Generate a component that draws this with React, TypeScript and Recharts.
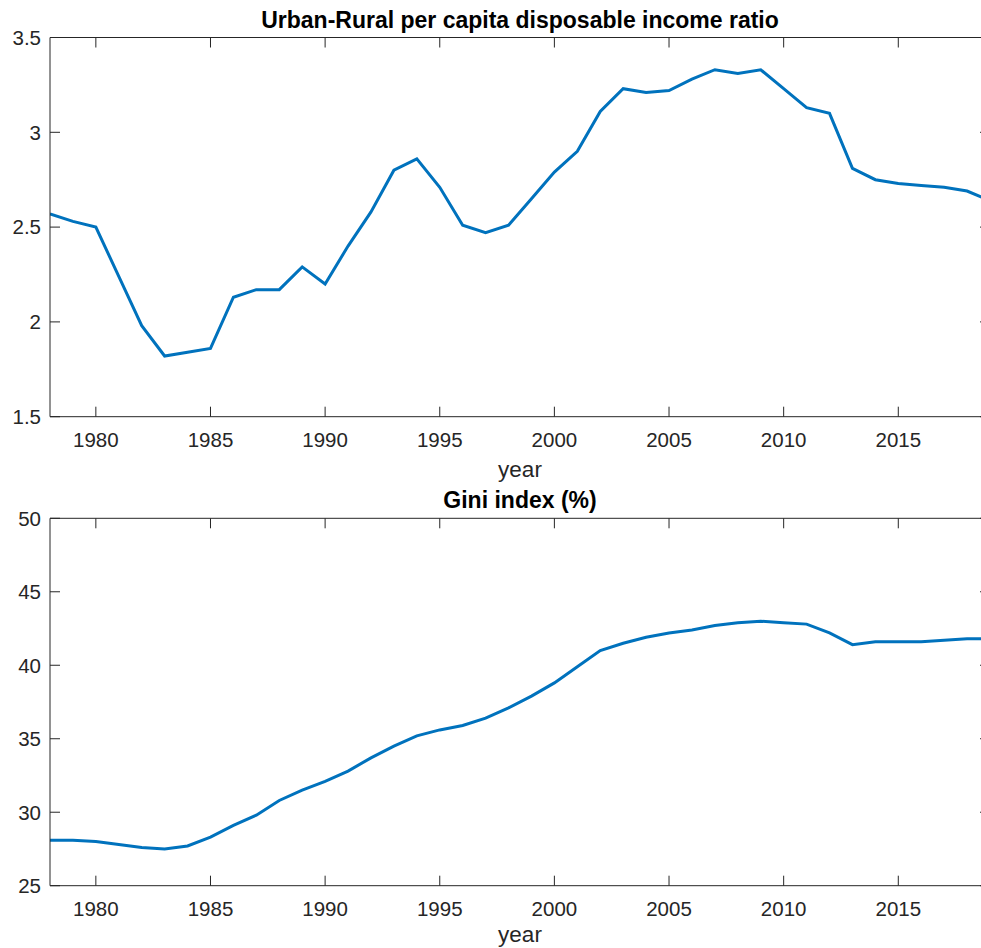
import React from 'react';
import { LineChart, Line, XAxis, YAxis } from 'recharts';

const years = [
  1978, 1979, 1980, 1981, 1982, 1983, 1984, 1985, 1986, 1987,
  1988, 1989, 1990, 1991, 1992, 1993, 1994, 1995, 1996, 1997,
  1998, 1999, 2000, 2001, 2002, 2003, 2004, 2005, 2006, 2007,
  2008, 2009, 2010, 2011, 2012, 2013, 2014, 2015, 2016, 2017,
  2018, 2019,
];

// Urban / rural per capita disposable income
const incomeRatio = [
  2.57, 2.53, 2.5, 2.24, 1.98, 1.82, 1.84, 1.86, 2.13, 2.17,
  2.17, 2.29, 2.2, 2.4, 2.58, 2.8, 2.86, 2.71, 2.51, 2.47,
  2.51, 2.65, 2.79, 2.9, 3.11, 3.23, 3.21, 3.22, 3.28, 3.33,
  3.31, 3.33, 3.23, 3.13, 3.1, 2.81, 2.75, 2.73, 2.72, 2.71,
  2.69, 2.64,
];

// Gini index, percent
const giniIndex = [
  28.1, 28.1, 28.0, 27.8, 27.6, 27.5, 27.7, 28.3, 29.1, 29.8,
  30.8, 31.5, 32.1, 32.8, 33.7, 34.5, 35.2, 35.6, 35.9, 36.4,
  37.1, 37.9, 38.8, 39.9, 41.0, 41.5, 41.9, 42.2, 42.4, 42.7,
  42.9, 43.0, 42.9, 42.8, 42.2, 41.4, 41.6, 41.6, 41.6, 41.7,
  41.8, 41.8,
];

const yearTicks = [1980, 1985, 1990, 1995, 2000, 2005, 2010, 2015];
const ratioTicks = [1.5, 2, 2.5, 3, 3.5];
const giniTicks = [25, 30, 35, 40, 45, 50];

const ratioTitle = 'Urban-Rural per capita disposable income ratio';
const giniTitle = 'Gini index (%)';
const xLabel = 'year';

const data = years.map((year, i) => ({
  year,
  ratio: incomeRatio[i],
  gini: giniIndex[i],
}));

const FONT = '"Liberation Sans", Arial, Helvetica, sans-serif';
const AXIS = '#262626';
const LINE = '#0072BD';
const TICK_LEN = 10;
const TICK_FONT = 20.5;
const TITLE_FONT = 23;
const LABEL_FONT = 22.5;

const BottomTick = (props: any) => {
  const { x, y, payload } = props;
  return (
    <g>
      <line x1={x} y1={y} x2={x} y2={y - TICK_LEN} stroke={AXIS} strokeWidth={1} />
      <text x={x} y={y + 30} textAnchor="middle" fill={AXIS} fontSize={TICK_FONT} fontFamily={FONT}>
        {payload.value}
      </text>
    </g>
  );
};

const TopTick = (props: any) => {
  const { x, y } = props;
  return <line x1={x} y1={y} x2={x} y2={y + TICK_LEN} stroke={AXIS} strokeWidth={1} />;
};

const LeftTick = (props: any) => {
  const { x, y, payload } = props;
  return (
    <g>
      <line x1={x} y1={y} x2={x + TICK_LEN} y2={y} stroke={AXIS} strokeWidth={1} />
      <text x={x - 9} y={y} dy="0.36em" textAnchor="end" fill={AXIS} fontSize={TICK_FONT} fontFamily={FONT}>
        {payload.value}
      </text>
    </g>
  );
};

const RightTick = (props: any) => {
  const { x, y } = props;
  return <line x1={x} y1={y} x2={x - TICK_LEN} y2={y} stroke={AXIS} strokeWidth={1} />;
};

const makeTitle = (text: string, gap: number) => (props: any) => {
  const vb = props.viewBox;
  return (
    <text
      x={vb.x + vb.width / 2}
      y={vb.y + vb.height - gap}
      textAnchor="middle"
      fill="#000"
      fontWeight="bold"
      fontSize={TITLE_FONT}
      fontFamily={FONT}
    >
      {text}
    </text>
  );
};

const makeXLabel = (text: string, below: number) => (props: any) => {
  const vb = props.viewBox;
  return (
    <text
      x={vb.x + vb.width / 2}
      y={vb.y + below}
      textAnchor="middle"
      fill={AXIS}
      fontSize={LABEL_FONT}
      fontFamily={FONT}
    >
      {text}
    </text>
  );
};

type PanelProps = {
  dataKey: string;
  domain: [number, number];
  yTicks: number[];
  title: string;
  height: number;
  topAxis: number;
  bottomAxis: number;
  titleGap: number;
  labelBelow: number;
};

const Panel = ({ dataKey, domain, yTicks, title, height, topAxis, bottomAxis, titleGap, labelBelow }: PanelProps) => (
  <LineChart
    width={1000}
    height={height}
    data={data}
    margin={{ top: 0, right: 0, bottom: 0, left: 0 }}
    style={{ overflow: 'visible' }}
  >
    <XAxis
      xAxisId="bottom"
      dataKey="year"
      type="number"
      domain={[1978, 2019]}
      ticks={yearTicks}
      orientation="bottom"
      height={bottomAxis}
      tickLine={false}
      tickSize={0}
      tickMargin={0}
      tick={<BottomTick />}
      axisLine={{ stroke: AXIS, strokeWidth: 1 }}
      allowDataOverflow
      interval={0}
      label={makeXLabel(xLabel, labelBelow)}
    />
    <XAxis
      xAxisId="top"
      dataKey="year"
      type="number"
      domain={[1978, 2019]}
      ticks={yearTicks}
      orientation="top"
      height={topAxis}
      tickLine={false}
      tickSize={0}
      tickMargin={0}
      tick={<TopTick />}
      axisLine={{ stroke: AXIS, strokeWidth: 1 }}
      allowDataOverflow
      interval={0}
      label={makeTitle(title, titleGap)}
    />
    <YAxis
      yAxisId="left"
      type="number"
      domain={domain}
      ticks={yTicks}
      orientation="left"
      width={50}
      tickLine={false}
      tickSize={0}
      tickMargin={0}
      tick={<LeftTick />}
      axisLine={{ stroke: AXIS, strokeWidth: 1 }}
      allowDataOverflow
      interval={0}
    />
    <YAxis
      yAxisId="right"
      type="number"
      domain={domain}
      ticks={yTicks}
      orientation="right"
      width={10}
      tickLine={false}
      tickSize={0}
      tickMargin={0}
      tick={<RightTick />}
      axisLine={{ stroke: AXIS, strokeWidth: 1 }}
      allowDataOverflow
      interval={0}
    />
    <Line
      xAxisId="bottom"
      yAxisId="left"
      type="linear"
      dataKey={dataKey}
      stroke={LINE}
      strokeWidth={3}
      dot={false}
      activeDot={false}
      isAnimationActive={false}
    />
  </LineChart>
);

export default function App() {
  return (
    <div
      style={{
        position: 'absolute',
        left: 0,
        top: 0,
        width: 981,
        height: 948,
        overflow: 'hidden',
        background: '#fff',
        fontFamily: FONT,
      }}
    >
      <div style={{ position: 'absolute', left: 0, top: 0 }}>
        <Panel
          dataKey="ratio"
          domain={[1.5, 3.5]}
          yTicks={ratioTicks}
          title={ratioTitle}
          height={490}
          topAxis={37.5}
          bottomAxis={490 - 416.7}
          titleGap={9.5}
          labelBelow={60}
        />
      </div>
      <div style={{ position: 'absolute', left: 0, top: 480 }}>
        <Panel
          dataKey="gini"
          domain={[25, 50]}
          yTicks={giniTicks}
          title={giniTitle}
          height={468}
          topAxis={38.3}
          bottomAxis={468 - 405.7}
          titleGap={10}
          labelBelow={56}
        />
      </div>
    </div>
  );
}
